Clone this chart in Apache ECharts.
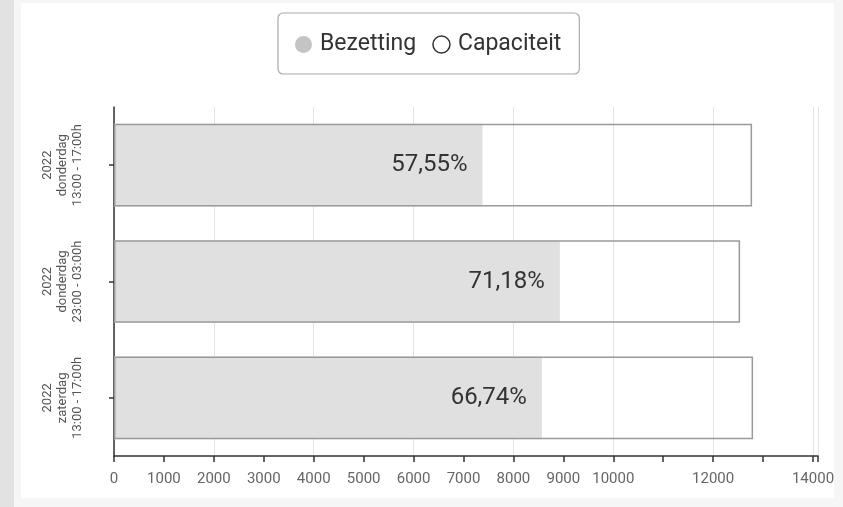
<!DOCTYPE html>
<html>
<head>
<meta charset="utf-8">
<script src="https://cdn.jsdelivr.net/npm/echarts@6/dist/echarts.min.js"></script>
<style>
  html, body { margin: 0; padding: 0; width: 843px; height: 507px; overflow: hidden; background: #f6f6f7; }
  #stripe { position: absolute; left: 0; top: 0; width: 14px; height: 507px; background: #e2e2e2; }
  #card { position: absolute; left: 21px; top: 3px; width: 813px; height: 495px; background: #ffffff; }
  #chart { position: absolute; left: 0; top: 0; width: 843px; height: 507px; }
</style>
</head>
<body>
<div id="stripe"></div>
<div id="card"></div>
<div id="chart"></div>
<script>
// ---- data ----
const categories = [
  '2022\ndonderdag\n13:00 - 17:00h',
  '2022\ndonderdag\n23:00 - 03:00h',
  '2022\nzaterdag\n13:00 - 17:00h'
];
const bezetting = [7380, 8930, 8570];
const capaciteit = [12780, 12540, 12800];
const percentLabels = ['57,55%', '71,18%', '66,74%'];
const shownTicks = [0, 1000, 2000, 3000, 4000, 5000, 6000, 7000, 8000, 9000, 10000, 12000, 14000];

const chart = echarts.init(document.getElementById('chart'), null, { renderer: 'canvas' });
const font = 'Roboto, "Liberation Sans", sans-serif';

const option = {
  backgroundColor: 'transparent',
  animation: false,
  textStyle: { fontFamily: font },
  legend: {
    left: 278,
    top: 13,
    padding: [20, 18, 18, 17],
    itemWidth: 17,
    itemHeight: 17,
    itemGap: 16,
    borderColor: '#aaaaaa',
    borderWidth: 1.2,
    borderRadius: 5,
    icon: 'circle',
    textStyle: { fontSize: 23, color: '#333333', fontFamily: font, padding: [0, 0, 0, 3] },
    data: [
      { name: 'Bezetting', itemStyle: { color: '#c4c4c4', borderWidth: 0 } },
      { name: 'Capaciteit', itemStyle: { color: '#ffffff', borderColor: '#333333', borderWidth: 1.5 } }
    ]
  },
  grid: { left: 114, right: 25, top: 107, bottom: 51, containLabel: false },
  xAxis: [
    {
      type: 'value',
      min: 0,
      max: 14100,
      interval: 1000,
      axisLine: { show: true, lineStyle: { color: '#333333', width: 1.5 } },
      axisTick: { show: true, length: 6, lineStyle: { color: '#333333', width: 1.5 } },
      splitLine: { show: false },
      axisLabel: {
        color: '#666666',
        fontSize: 15,
        fontFamily: font,
        margin: 16,
        showMaxLabel: true,
        showMinLabel: true,
        formatter: function (v) { return shownTicks.indexOf(v) >= 0 ? String(v) : ''; }
      }
    },
    {
      type: 'value',
      min: 0,
      max: 14100,
      interval: 2000,
      position: 'bottom',
      axisLine: { show: false },
      axisTick: { show: false },
      axisLabel: { show: false },
      splitLine: { show: true, lineStyle: { color: '#e3e3e3', width: 1 } }
    }
  ],
  yAxis: {
    type: 'category',
    inverse: true,
    data: categories,
    axisLine: { show: true, lineStyle: { color: '#333333', width: 1.5 } },
    axisTick: { show: true, length: 5, alignWithLabel: true, lineStyle: { color: '#333333', width: 1.5 } },
    axisLabel: {
      rotate: 90,
      color: '#555555',
      fontSize: 13,
      lineHeight: 15,
      fontFamily: font,
      margin: 29,
      align: 'center'
    },
    splitLine: { show: false }
  },
  series: [
    {
      name: 'Bezetting',
      type: 'bar',
      xAxisIndex: 0,
      data: bezetting,
      barCategoryGap: '29%',
      barGap: '-100%',
      z: 2,
      itemStyle: { color: '#e0e0e0' },
      label: {
        show: true,
        position: 'insideRight',
        distance: 15,
        fontSize: 24,
        color: '#333333',
        fontFamily: font,
        formatter: function (p) { return percentLabels[p.dataIndex]; }
      }
    },
    {
      name: 'Capaciteit',
      type: 'bar',
      xAxisIndex: 0,
      data: capaciteit,
      barCategoryGap: '29%',
      barGap: '-100%',
      z: 3,
      itemStyle: { color: 'rgba(255,255,255,0)', borderColor: '#9a9a9a', borderWidth: 1.5 }
    }
  ]
};
chart.setOption(option);
</script>
</body>
</html>
